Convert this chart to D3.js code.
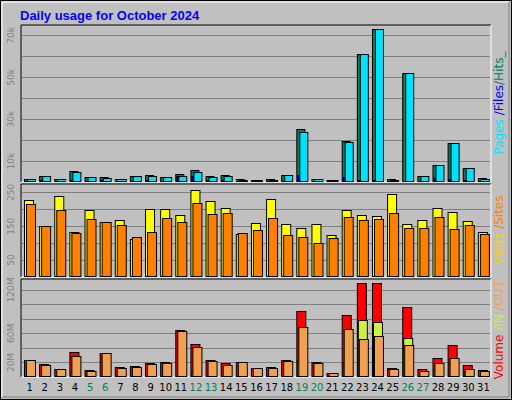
<!DOCTYPE html><html><head><meta charset="utf-8">
<script src="https://cdn.jsdelivr.net/npm/d3@7"></script>
<style>body{margin:0;background:#fff}</style></head><body><svg id="c" width="512" height="400"></svg>
<script>
const days=d3.range(1,32);
const weekend=[5,6,12,13,19,20,26,27];
const hits=[1.3,2.9,1.3,5.3,2.4,2.4,1.3,2.9,3.4,2.4,3.8,5.8,2.9,3.4,1.3,0.8,1.3,3.4,25.3,1.3,0.8,19.5,61.3,73.3,1.3,52.2,2.9,8.0,18.6,6.6,1.8].map(v=>v*1000);
const files=[1.3,2.9,1.3,4.6,2.4,1.9,1.3,2.9,2.7,2.4,3.0,4.6,2.4,2.9,1.0,0.8,0.8,3.4,23.8,1.3,0.8,19.0,61.3,73.3,1.0,52.2,2.9,8.0,18.6,6.6,1.3].map(v=>v*1000);
const pages=[0.6,0.8,0.5,1.0,0.6,0.8,0.4,0.7,0.9,0.6,3.0,2.7,0.8,0.8,0.4,0.3,0.4,0.6,3.4,0.5,0.3,2.2,0.9,0.9,0.4,0.6,0.5,1.8,1.5,0.8,0.5].map(v=>v*1000);
const visits=[227,151,239,134,198,163,169,111,201,201,184,256,224,204,128,160,230,157,146,157,125,198,184,181,245,157,169,204,192,166,134];
const sites=[216,151,198,131,172,163,154,117,134,175,163,218,186,189,131,140,175,125,119,102,114,178,169,172,189,146,146,178,143,154,128];
const volume=[23.8,18,11,33.8,9.5,32.4,13.8,15.2,19.5,21,65,45,23.8,19.5,21,12.4,13.8,23.8,91,21,5.2,85,129.5,129.5,12.4,96.7,11,26.7,43.8,16.7,9.5];
const volIn=[1,2,1,6.7,1,1,1,1.5,1.5,1.5,1.5,6.7,1,1.5,1,1,1,1.5,23.8,1,0.5,21,78,75.2,1,53.8,1,9.5,19.5,8,1.5];
const volOut=[23.8,16.7,11,29.5,8.1,32.4,12.4,13.8,18,19.5,63.8,41,22.4,16.7,21,12.4,12.4,22.4,69.5,19.5,5.2,66.7,52.4,56.7,11,43.8,8.1,19.5,26.7,11,8.1];

const svg=d3.select("#c");
svg.append("rect").attr("x",0.5).attr("y",0.5).attr("width",511).attr("height",399).attr("fill","#c0c0c0").attr("stroke","#000");
svg.append("path").attr("d","M2,397V2H509").attr("fill","none").attr("stroke","#fff");
svg.append("path").attr("d","M2,397H509V2").attr("fill","none").attr("stroke","#808080");
svg.append("text").attr("x",20).attr("y",20).text("Daily usage for October 2024")
 .attr("font-family","Liberation Sans, Arial").attr("font-weight","bold").attr("font-size",13).attr("fill","#0000ff");

const x0=22,x1=491;
const x=d3.scaleBand().domain(days).range([x0,x1]);
const F="DejaVu Sans, Arial";
function panel(top,bot,max,ticks,fmt,labelTicks){
  svg.append("path").attr("d",`M${x0-1},${bot}V${top}H${x1}`).attr("stroke","#000").attr("fill","none");
  svg.append("path").attr("d",`M${x0-1},${bot}H${x1}V${top}`).attr("stroke","#fff").attr("fill","none");
  const y=d3.scaleLinear().domain([0,max]).range([bot,top]);
  const g=svg.append("g");
  ticks.forEach(t=>{g.append("line").attr("x1",x0).attr("x2",x1-1).attr("y1",Math.round(y(t))+0.5).attr("y2",Math.round(y(t))+0.5).attr("stroke","#808080");});
  labelTicks.forEach(t=>{svg.append("text").attr("transform",`translate(14,${y(t)}) rotate(-90)`).attr("text-anchor","middle")
     .attr("font-family",F).attr("font-size",9).attr("fill","#808080").text(fmt(t));});
  return y;
}
function bars(y,data,off,w,color){
  svg.append("g").selectAll("rect").data(data).join("rect")
   .attr("x",(d,i)=>x(days[i])+off+0.5).attr("width",w)
   .attr("y",d=>Math.round(y(d))+0.5).attr("height",d=>Math.max(0,y(0)-Math.round(y(d))-1))
   .attr("fill",color).attr("stroke","#000");
}
// top
let y1=panel(25,182,75000,d3.range(10000,80000,10000),t=>(t/1000)+"k",[10000,30000,50000,70000]);
bars(y1,hits,2,8,"#00805c");bars(y1,pages,3,8,"#0000ff");bars(y1,files,5,8,"#00e0ff");
// middle
let y2=panel(184,277,275,[50,100,150,200,250],t=>t,[50,150,250]);
bars(y2,visits,2,9,"#ffff00");bars(y2,sites,4,9,"#ff8000");
// bottom
let y3=panel(279,377,135,[20,40,60,80,100,120],t=>t+"M",[20,60,120]);
bars(y3,volume,2,9,"#ff0000");bars(y3,volIn,3,9,"#d0f040");bars(y3,volOut,4,9,"#f0a050");
// x labels
svg.append("g").selectAll("text").data(days).join("text")
 .attr("x",d=>x(d)+x.bandwidth()/2).attr("y",391).attr("text-anchor","middle")
 .attr("font-family",F).attr("font-size",10).attr("fill",d=>weekend.includes(d)?"#00805c":"#000").text(d=>d);
// right labels
function rlab(cy,parts){
  const t=svg.append("text").attr("transform",`translate(503,${cy}) rotate(-90)`).attr("text-anchor","middle")
   .attr("font-family",F).attr("font-size",12);
  parts.forEach(p=>t.append("tspan").attr("fill",p[1]).text(p[0]));
}
rlab(103,[["Pages","#00e0ff"],[" /","#0000ff"],["Files","#0000ff"],["/","#00805c"],["Hits_","#00805c"]]);
rlab(230,[["Visits","#ffd000"],[" /","#ff8000"],["Sites","#ff8000"]]);
rlab(330,[["Volume","#ff0000"],[" /","#d0f040"],["IN","#d0f040"],[" /","#f0a050"],["OUT","#f0a050"]]);
</script></body></html>
